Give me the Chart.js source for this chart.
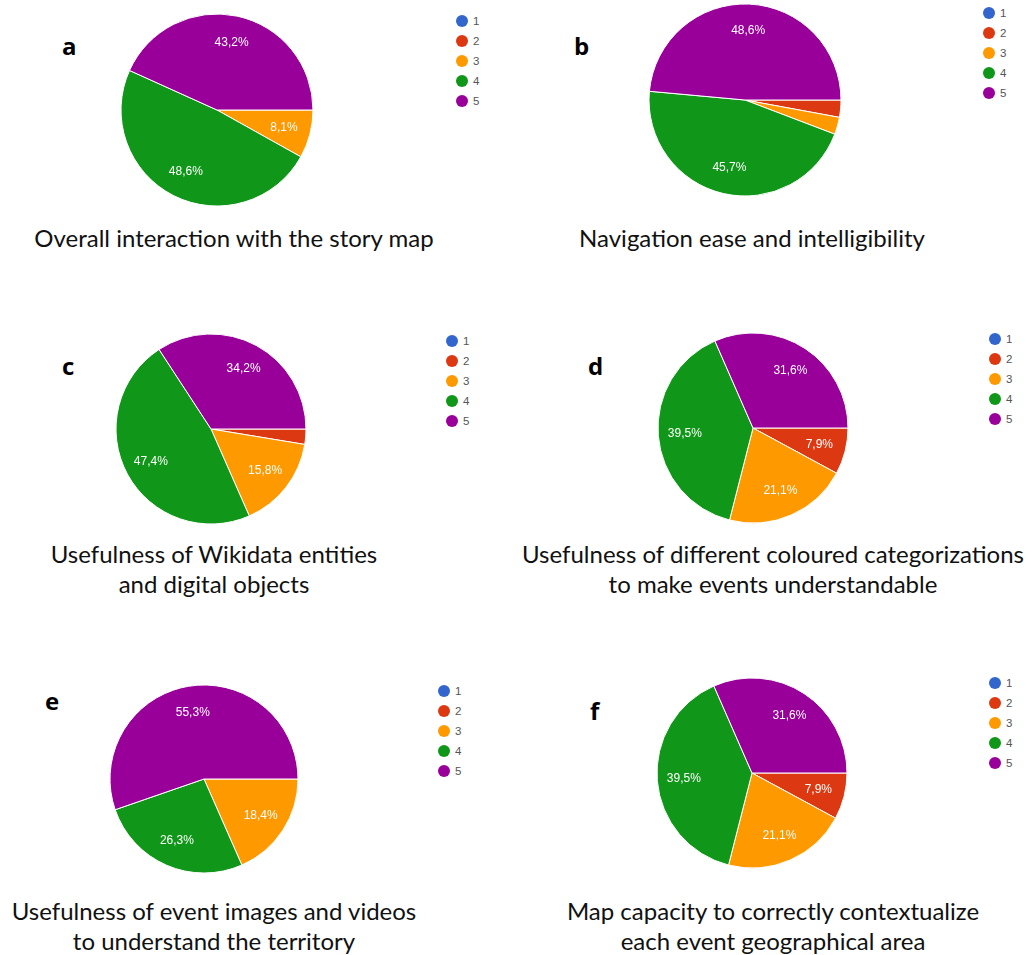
<!DOCTYPE html>
<html>
<head>
<meta charset="utf-8">
<script src="https://cdn.jsdelivr.net/npm/chart.js@4.4.1/dist/chart.umd.min.js"></script>
<style>
  html, body { margin: 0; padding: 0; background: #fff; }
  #page { position: relative; width: 1032px; height: 955px; overflow: hidden; }
  .box { position: absolute; }
  .letter { position: absolute; font: bold 24px "Open Sans", sans-serif; color: #000; line-height: 24px; }
  .caption { position: absolute; width: 700px; text-align: center; font: 24px Lato, sans-serif; color: #111; line-height: 30px; white-space: nowrap; }
  .legend { position: absolute; font: 11.5px "Liberation Sans", Arial, sans-serif; color: #555; }
  .legend div { height: 20px; line-height: 20px; position: relative; padding-left: 11px; }
  .legend span { position: absolute; left: -6px; top: 4px; width: 12px; height: 12px; border-radius: 50%; }
</style>
</head>
<body>
<div id="page"></div>
<script>
// answer options and their colours
var categories = ['1', '2', '3', '4', '5'];
var colours = ['#3366cc', '#dc3912', '#ff9900', '#109618', '#990099'];

// percentages per question
var valuesA = [0, 0, 8.1, 48.6, 43.2];
var valuesB = [0, 2.9, 2.9, 45.7, 48.6];
var valuesC = [0, 2.6, 15.8, 47.4, 34.2];
var valuesD = [0, 7.9, 21.1, 39.5, 31.6];
var valuesE = [0, 0, 18.4, 26.3, 55.3];
var valuesF = [0, 7.9, 21.1, 39.5, 31.6];

var letters = ['a', 'b', 'c', 'd', 'e', 'f'];
var captions = [
    ['Overall interaction with the story map'],
    ['Navigation ease and intelligibility'],
    ['Usefulness of Wikidata entities', 'and digital objects'],
    ['Usefulness of different coloured categorizations', 'to make events understandable'],
    ['Usefulness of event images and videos', 'to understand the territory'],
    ['Map capacity to correctly contextualize', 'each event geographical area']
];
var allValues = [valuesA, valuesB, valuesC, valuesD, valuesE, valuesF];

// layout of each panel: pie centre/radius, letter, legend, caption
var panels = [
    { cx: 217, cy: 110, r: 96, lx: 62, ly: 53, gx: 462, gy: 21, tx: 234, ty: 247 },
    { cx: 745, cy: 100, r: 96, lx: 574, ly: 53, gx: 989, gy: 13, tx: 752, ty: 247 },
    { cx: 211, cy: 429, r: 95, lx: 62, ly: 373, gx: 452, gy: 341, tx: 214, ty: 563 },
    { cx: 753, cy: 428, r: 95, lx: 588, ly: 373, gx: 995, gy: 339, tx: 773, ty: 563 },
    { cx: 204, cy: 779, r: 94, lx: 45, ly: 708, gx: 444, gy: 691, tx: 214, ty: 920 },
    { cx: 752, cy: 773, r: 95, lx: 590, ly: 718, gx: 995, gy: 683, tx: 773, ty: 920 }
];

var sliceLabels = {
    id: 'sliceLabels',
    afterDatasetsDraw: function (chart) {
        var ctx = chart.ctx;
        var data = chart.data.datasets[0].data;
        ctx.save();
        ctx.fillStyle = '#fff';
        ctx.font = '12px "Liberation Sans", Arial, sans-serif';
        ctx.textAlign = 'center';
        ctx.textBaseline = 'middle';
        chart.getDatasetMeta(0).data.forEach(function (arc, i) {
            if (data[i] < 5) return;
            var p = arc.getProps(['x', 'y', 'startAngle', 'endAngle', 'outerRadius']);
            var mid = (p.startAngle + p.endAngle) / 2;
            var d = p.outerRadius * 0.72;
            ctx.fillText(data[i].toFixed(1).replace('.', ',') + '%', p.x + Math.cos(mid) * d, p.y + Math.sin(mid) * d);
        });
        ctx.restore();
    }
};

var page = document.getElementById('page');

panels.forEach(function (p, k) {
    var size = p.r * 2 + 10;
    var box = document.createElement('div');
    box.className = 'box';
    box.style.left = (p.cx - size / 2) + 'px';
    box.style.top = (p.cy - size / 2) + 'px';
    var canvas = document.createElement('canvas');
    canvas.width = size;
    canvas.height = size;
    box.appendChild(canvas);
    page.appendChild(box);

    new Chart(canvas.getContext('2d'), {
        type: 'pie',
        data: {
            labels: categories,
            datasets: [{
                data: allValues[k],
                backgroundColor: colours,
                borderColor: '#fff',
                borderWidth: 1,
                hoverOffset: 0
            }]
        },
        options: {
            responsive: false,
            animation: false,
            rotation: 90,
            radius: p.r,
            plugins: { legend: { display: false }, tooltip: { enabled: false } }
        },
        plugins: [sliceLabels]
    });

    var letter = document.createElement('div');
    letter.className = 'letter';
    letter.textContent = letters[k];
    letter.style.left = p.lx + 'px';
    letter.style.top = (p.ly - 19) + 'px';
    page.appendChild(letter);

    var legend = document.createElement('div');
    legend.className = 'legend';
    legend.style.left = p.gx + 'px';
    legend.style.top = (p.gy - 10) + 'px';
    categories.forEach(function (c, i) {
        var row = document.createElement('div');
        var dot = document.createElement('span');
        dot.style.background = colours[i];
        row.appendChild(dot);
        row.appendChild(document.createTextNode(c));
        legend.appendChild(row);
    });
    page.appendChild(legend);

    captions[k].forEach(function (line, j) {
        var cap = document.createElement('div');
        cap.className = 'caption';
        cap.textContent = line;
        cap.style.left = (p.tx - 350) + 'px';
        cap.style.top = (p.ty + j * 30 - 24) + 'px';
        page.appendChild(cap);
    });
});
</script>
</body>
</html>
